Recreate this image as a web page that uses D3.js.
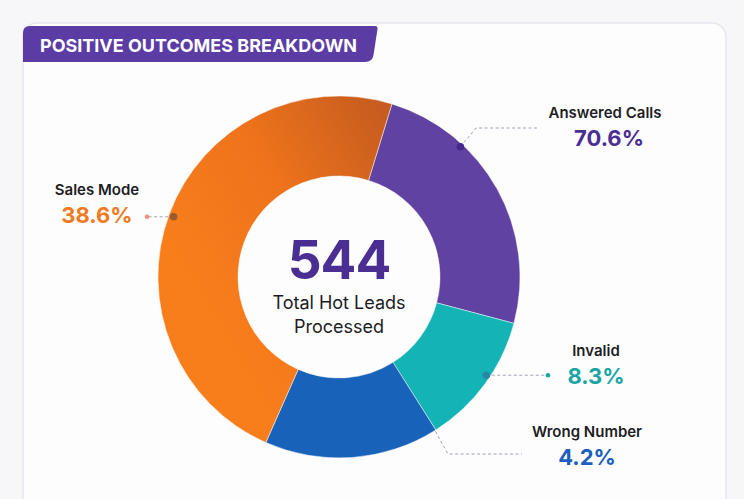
<!DOCTYPE html>
<html>
<head>
<meta charset="utf-8">
<script src="https://cdn.jsdelivr.net/npm/d3@7"></script>
<style>
  html, body { margin: 0; padding: 0; background: #f7f7f9; }
  svg { display: block; font-family: Inter, "Open Sans", sans-serif; }
</style>
</head>
<body>
<svg id="chart" width="744" height="499"></svg>
<script>
// data
var categories = ["Answered Calls", "Invalid", "Wrong Number", "Sales Mode"];
// the percentages printed next to each slice
var shownPct = [70.6, 8.3, 4.2, 38.6];
// share of the ring each slice actually covers (in % of the circle)
var ringShare = [24.4, 11.9, 15.6, 48.1];
var totalLeads = 544;
var titleText = "POSITIVE OUTCOMES BREAKDOWN";
var centerLines = ["Total Hot Leads", "Processed"];

// colours
var sliceColors = ["#5f42a1", "#14b3b6", "#1862b9", "url(#orangeGrad)"];
var pctColors = ["#4b2e93", "#1aa6a4", "#1b5fc0", "#f07a22"];
var dotColors = ["#46288a", "#2a86a6", null, "#9c5a2f"];
var endDotColors = [null, "#1aa6a4", null, "#f3907a"];

var cx = 339, cy = 277;
var rOuter = 181, rInner = 101;
var startDeg = 17;

var svg = d3.select("#chart");

// card
svg.append("rect")
  .attr("x", 23).attr("y", 23)
  .attr("width", 703).attr("height", 520)
  .attr("rx", 14)
  .attr("fill", "#fdfdfe")
  .attr("stroke", "#e6e6ee")
  .attr("stroke-width", 1.5);

// title banner
svg.append("path")
  .attr("d", "M23,62 L23,33 Q23,26 30,26 L375,26 Q378,26 377.5,29 L373.5,55 Q372.5,62 365,62 Z")
  .attr("fill", "#5b3ba4");

svg.append("text")
  .attr("x", 40).attr("y", 52)
  .attr("fill", "#fff")
  .attr("font-size", 18)
  .attr("font-weight", 700)
  .attr("textLength", 317)
  .attr("lengthAdjust", "spacingAndGlyphs")
  .text(titleText);

// gradient for the orange slice (bright on the left, darker toward the top right)
var defs = svg.append("defs");
var grad = defs.append("linearGradient")
  .attr("id", "orangeGrad")
  .attr("gradientUnits", "userSpaceOnUse")
  .attr("x1", 175).attr("y1", 260)
  .attr("x2", 395).attr("y2", 130);
grad.append("stop").attr("offset", "0").attr("stop-color", "#f87e1c");
grad.append("stop").attr("offset", "0.5").attr("stop-color", "#ee731b");
grad.append("stop").attr("offset", "1").attr("stop-color", "#c65c1f");

// donut
var pie = d3.pie()
  .sort(null)
  .value(function(d) { return d; })
  .startAngle(startDeg * Math.PI / 180)
  .endAngle(startDeg * Math.PI / 180 + 2 * Math.PI);

var arcs = pie(ringShare);
var arc = d3.arc().innerRadius(rInner).outerRadius(rOuter);

// paths stay in page coordinates so the gradient lines up
svg.append("g")
  .attr("transform", "translate(" + cx + "," + cy + ")")
  .selectAll("path")
  .data(arcs)
  .enter().append("path")
  .attr("d", arc)
  .attr("fill", function(d, i) { return i === 3 ? "url(#orangeGradLocal)" : sliceColors[i]; })
  .attr("stroke", "rgba(255,255,255,0.6)")
  .attr("stroke-width", 0.8);

// same gradient expressed in the slice group's local coordinates
var gradLocal = defs.append("linearGradient")
  .attr("id", "orangeGradLocal")
  .attr("gradientUnits", "userSpaceOnUse")
  .attr("x1", 175 - cx).attr("y1", 260 - cy)
  .attr("x2", 395 - cx).attr("y2", 130 - cy);
grad.selectAll("stop").each(function() {
  gradLocal.append("stop")
    .attr("offset", this.getAttribute("offset"))
    .attr("stop-color", this.getAttribute("stop-color"));
});

// centre text
svg.append("text")
  .attr("x", cx).attr("y", 279)
  .attr("text-anchor", "middle")
  .attr("font-size", 53)
  .attr("font-weight", 700)
  .attr("letter-spacing", -1)
  .attr("fill", "#4a2e92")
  .text(totalLeads);

svg.selectAll("text.center")
  .data(centerLines)
  .enter().append("text")
  .attr("class", "center")
  .attr("x", cx)
  .attr("y", function(d, i) { return 309 + i * 24; })
  .attr("text-anchor", "middle")
  .attr("font-size", 18)
  .attr("fill", "#1c1c22")
  .text(function(d) { return d; });

// label placement (layout only): angle of the anchor on the ring,
// elbow / end of the leader line, and label centre
var labelLayout = [
  { angle: 43, r: 178, elbow: [476, 128], end: [537, 128], lx: 605, ly: 118 },
  { angle: 123.7, r: 177, elbow: null, end: [548, null], lx: 596, ly: 356 },
  { angle: 148, r: 182, elbow: [448, 454], end: [522, 454], lx: 587, ly: 437 },
  { angle: 290, r: 176, elbow: null, end: [147, null], lx: 97, ly: 195 }
];

function ringPoint(deg, r) {
  var a = deg * Math.PI / 180;
  return [cx + r * Math.sin(a), cy - r * Math.cos(a)];
}

var labels = svg.append("g");

categories.forEach(function(name, i) {
  var L = labelLayout[i];
  var p = ringPoint(L.angle, L.r);
  var pts = [p];
  if (L.elbow) pts.push(L.elbow);
  pts.push([L.end[0], L.end[1] == null ? p[1] : L.end[1]]);

  labels.append("path")
    .attr("d", d3.line()(pts))
    .attr("fill", "none")
    .attr("stroke", "#9ea3b3")
    .attr("stroke-width", 1)
    .attr("stroke-dasharray", "3,2.5");

  if (dotColors[i]) {
    labels.append("circle")
      .attr("cx", p[0]).attr("cy", p[1]).attr("r", 3.8)
      .attr("fill", dotColors[i]);
  }
  if (endDotColors[i]) {
    var e = pts[pts.length - 1];
    labels.append("circle")
      .attr("cx", e[0]).attr("cy", e[1]).attr("r", 2.3)
      .attr("fill", endDotColors[i]);
  }

  labels.append("text")
    .attr("x", L.lx).attr("y", L.ly)
    .attr("text-anchor", "middle")
    .attr("font-size", 15)
    .attr("font-weight", 600)
    .attr("fill", "#1e1e24")
    .text(name);

  labels.append("text")
    .attr("x", L.lx + (i === 0 ? 4 : 0)).attr("y", L.ly + 28)
    .attr("text-anchor", "middle")
    .attr("font-size", 22)
    .attr("font-weight", 700)
    .attr("fill", pctColors[i])
    .text(shownPct[i].toFixed(1) + "%");
});
</script>
</body>
</html>
